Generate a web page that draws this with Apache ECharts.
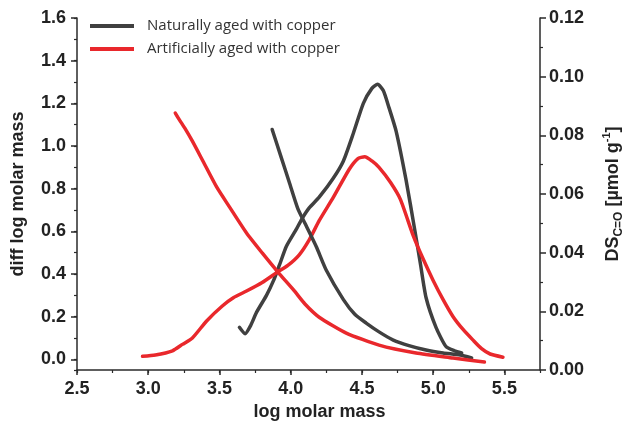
<!DOCTYPE html>
<html>
<head>
<meta charset="utf-8">
<script src="https://cdn.jsdelivr.net/npm/echarts@6/dist/echarts.min.js"></script>
<style>html,body{margin:0;padding:0;background:#fff;}#c{width:626px;height:431px;}</style>
</head>
<body>
<div id="c"></div>
<script>
// Series names
const nameNat = 'Naturally aged with copper';
const nameArt = 'Artificially aged with copper';

// Molar mass distribution (left axis: diff log molar mass)
const naturalDist = [[3.64,0.15],[3.68,0.12],[3.72,0.16],[3.76,0.22],[3.83,0.30],[3.88,0.37],[3.92,0.44],[3.97,0.53],[4.04,0.61],[4.08,0.66],[4.13,0.71],[4.20,0.76],[4.30,0.85],[4.37,0.93],[4.44,1.06],[4.51,1.20],[4.57,1.27],[4.61,1.29],[4.65,1.26],[4.69,1.18],[4.74,1.07],[4.81,0.84],[4.87,0.61],[4.91,0.45],[4.95,0.29],[5.02,0.15],[5.09,0.06],[5.15,0.04],[5.20,0.03]];
const artificialDist = [[2.96,0.014],[3.05,0.02],[3.17,0.04],[3.24,0.07],[3.31,0.10],[3.41,0.18],[3.52,0.25],[3.60,0.29],[3.69,0.32],[3.80,0.36],[3.91,0.41],[3.98,0.44],[4.06,0.49],[4.13,0.56],[4.20,0.65],[4.30,0.76],[4.41,0.89],[4.47,0.94],[4.52,0.95],[4.57,0.93],[4.62,0.90],[4.70,0.83],[4.77,0.75],[4.86,0.58],[4.93,0.47],[5.00,0.37],[5.07,0.28],[5.14,0.20],[5.21,0.14],[5.28,0.09],[5.34,0.05],[5.40,0.025],[5.49,0.01]];

// Carbonyl content (right axis: DS C=O, umol/g)
const naturalDS = [[3.87,0.082],[3.93,0.073],[3.99,0.064],[4.05,0.055],[4.10,0.050],[4.18,0.042],[4.25,0.034],[4.37,0.024],[4.45,0.019],[4.53,0.016],[4.62,0.013],[4.72,0.0102],[4.83,0.0083],[4.95,0.0068],[5.07,0.0058],[5.19,0.0051],[5.27,0.0041]];
const artificialDS = [[3.19,0.0876],[3.22,0.0852],[3.26,0.0822],[3.31,0.0780],[3.38,0.0716],[3.48,0.0624],[3.57,0.0556],[3.69,0.0467],[3.80,0.0399],[3.91,0.0334],[4.02,0.0273],[4.10,0.0225],[4.20,0.018],[4.39,0.0126],[4.62,0.0085],[4.88,0.0058],[5.14,0.0041],[5.36,0.0027]];

const grayColor = '#404040';
const redColor = '#e9282c';
const axisColor = '#2a2a2a';
const labelFont = {fontFamily: 'Liberation Sans, Arial, sans-serif', fontWeight: 'bold', fontSize: 18, color: '#222'};

const chart = echarts.init(document.getElementById('c'), null, {renderer: 'canvas'});

function lineSeries(name, data, color, yIdx) {
  return {
    name: name, type: 'line', data: data, xAxisIndex: 0, yAxisIndex: yIdx,
    showSymbol: false, symbol: 'none', smooth: 0.2,
    lineStyle: {color: color, width: 3.5, cap: 'round', join: 'round'},
    itemStyle: {color: color},
    emphasis: {disabled: true}, animation: false
  };
}

chart.setOption({
  animation: false,
  backgroundColor: '#fff',
  grid: {left: 77, right: 86, top: 18, bottom: 61, containLabel: false, outerBoundsMode: 'none'},
  legend: {
    data: [{name: nameNat, icon: 'rect'}, {name: nameArt, icon: 'rect'}],
    orient: 'vertical', left: 90, top: 18, padding: 0,
    itemWidth: 44, itemHeight: 4, itemGap: 7,
    textStyle: {fontFamily: 'Open Sans', fontSize: 15, color: '#333', lineHeight: 16, padding: [0,0,0,8]}
  },
  xAxis: [{
    type: 'value', min: 2.5, max: 5.75, minInterval: 0.5, maxInterval: 0.5,
    name: 'log molar mass', nameLocation: 'middle', nameGap: 33,
    nameTextStyle: Object.assign({}, labelFont, {padding: [0,0,0,22]}),
    axisLine: {show: true, onZero: false, lineStyle: {color: axisColor, width: 1.5}},
    axisTick: {show: true, length: 5, lineStyle: {color: axisColor, width: 1.5}},
    axisLabel: Object.assign({}, labelFont, {margin: 10, showMaxLabel: false, formatter: v => v.toFixed(1)}),
    splitLine: {show: false}
  }, {
    type: 'value', min: 2.5, max: 5.75, interval: 0.25, position: 'bottom',
    axisLine: {show: false, onZero: false}, axisLabel: {show: false}, splitLine: {show: false},
    axisTick: {show: true, length: 3, lineStyle: {color: axisColor, width: 1.2}}
  }],
  yAxis: [{
    type: 'value', min: -0.05, max: 1.6, minInterval: 0.2, maxInterval: 0.2, position: 'left',
    name: 'diff log molar mass', nameLocation: 'middle', nameGap: 50,
    nameTextStyle: labelFont,
    axisLine: {show: true, onZero: false, lineStyle: {color: axisColor, width: 1.5}},
    axisTick: {show: true, length: 6, lineStyle: {color: axisColor, width: 1.5}},
    axisLabel: Object.assign({}, labelFont, {margin: 11, showMinLabel: false, formatter: v => v.toFixed(1)}),
    splitLine: {show: false}
  }, {
    type: 'value', min: 0, max: 0.12, interval: 0.02, position: 'right',
    name: '{b|DS}{sub|C=O}{b| [µmol g}{sup|-1}{b|]}', nameLocation: 'middle', nameGap: 61,
    nameTextStyle: {rich: {
      b: {fontFamily: 'Liberation Sans, Arial, sans-serif', fontWeight: 'bold', fontSize: 18, color: '#222', lineHeight: 24, verticalAlign: 'middle'},
      sub: {fontFamily: 'Liberation Sans, Arial, sans-serif', fontWeight: 'bold', fontSize: 12, color: '#222', lineHeight: 12, verticalAlign: 'bottom'},
      sup: {fontFamily: 'Liberation Sans, Arial, sans-serif', fontWeight: 'bold', fontSize: 11, color: '#222', lineHeight: 11, verticalAlign: 'top'}
    }},
    axisLine: {show: true, onZero: false, lineStyle: {color: axisColor, width: 1.5}},
    axisTick: {show: true, length: 6, lineStyle: {color: axisColor, width: 1.5}},
    minorTick: {show: true, splitNumber: 2, length: 3, lineStyle: {color: axisColor, width: 1.2}},
    axisLabel: Object.assign({}, labelFont, {margin: 9, formatter: v => v.toFixed(2)}),
    splitLine: {show: false}
  }, {
    type: 'value', min: -0.05, max: 1.6, minInterval: 0.1, maxInterval: 0.1, position: 'left',
    axisLine: {show: false, onZero: false}, axisLabel: {show: false}, splitLine: {show: false},
    axisTick: {show: true, length: 3, lineStyle: {color: axisColor, width: 1.2}}
  }],
  series: [
    lineSeries(nameNat, naturalDist, grayColor, 0),
    lineSeries(nameArt, artificialDist, redColor, 0),
    lineSeries(nameNat, naturalDS, grayColor, 1),
    lineSeries(nameArt, artificialDS, redColor, 1)
  ]
});
</script>
</body>
</html>
